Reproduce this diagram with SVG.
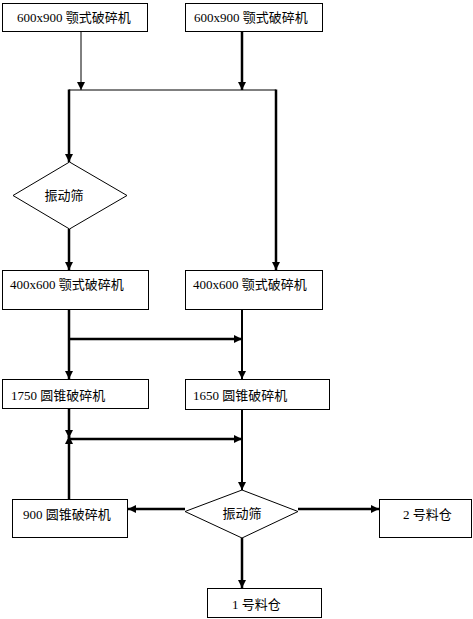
<svg xmlns="http://www.w3.org/2000/svg" width="473" height="619" viewBox="0 0 473 619">
<style>
.box{fill:#fff;stroke:#000;stroke-width:1}
.t{font-family:"Liberation Serif","Noto Sans CJK SC",serif;font-size:13px;fill:#000}
.thin{stroke:#000;stroke-width:1;fill:none}
.thick{stroke:#000;stroke-width:2.5;fill:none}
.mid{stroke:#000;stroke-width:2;fill:none}
</style>
<defs>
<marker id="ah" markerUnits="userSpaceOnUse" markerWidth="8" markerHeight="8" viewBox="0 0 8 8" refX="8" refY="4" orient="auto">
<path d="M0,0 L8,4 L0,8 z" fill="#000"/>
</marker>
</defs>
<rect width="473" height="619" fill="#fff"/>
<g id="connectors">
<line class="thin" x1="81" y1="31" x2="81" y2="90" marker-end="url(#ah)"/>
<line class="thick" x1="242" y1="31" x2="242" y2="90" marker-end="url(#ah)"/>
<line class="thin" x1="69" y1="90" x2="276" y2="90"/>
<line class="thick" x1="69" y1="89.5" x2="69" y2="162" marker-end="url(#ah)"/>
<line class="thick" x1="276" y1="89.5" x2="276" y2="270" marker-end="url(#ah)"/>
<line class="thick" x1="69" y1="229" x2="69" y2="270" marker-end="url(#ah)"/>
<line class="thick" x1="69" y1="310" x2="69" y2="379" marker-end="url(#ah)"/>
<line class="thick" x1="69" y1="339" x2="242" y2="339" marker-end="url(#ah)"/>
<line class="mid" x1="242" y1="310" x2="242" y2="379" marker-end="url(#ah)"/>
<line class="thick" x1="69" y1="409" x2="69" y2="438" marker-end="url(#ah)"/>
<line class="thick" x1="69" y1="499" x2="69" y2="436" marker-end="url(#ah)"/>
<line class="thick" x1="69" y1="439" x2="242" y2="439" marker-end="url(#ah)"/>
<line class="mid" x1="242" y1="410" x2="242" y2="490" marker-end="url(#ah)"/>
<line class="thick" x1="185" y1="509" x2="128" y2="509" marker-end="url(#ah)"/>
<line class="thick" x1="298" y1="509" x2="379" y2="509" marker-end="url(#ah)"/>
<line class="thick" x1="242" y1="538" x2="242" y2="588" marker-end="url(#ah)"/>
</g>
<g id="jaw1"><rect class="box" x="2.5" y="3.5" width="145" height="28"/><text class="t" x="17" y="22">600x900 颚式破碎机</text></g>
<g id="jaw2"><rect class="box" x="185.5" y="3.5" width="137" height="28"/><text class="t" x="194" y="22">600x900 颚式破碎机</text></g>
<g id="screen1"><polygon class="box" points="69.5,162 127,195.5 69.5,229 13,195.5"/><text class="t" x="64" y="200" text-anchor="middle">振动筛</text></g>
<g id="jaw3"><rect class="box" x="2.5" y="270.5" width="146" height="39"/><text class="t" x="10" y="289">400x600 颚式破碎机</text></g>
<g id="jaw4"><rect class="box" x="185.5" y="270.5" width="137" height="39"/><text class="t" x="193" y="289">400x600 颚式破碎机</text></g>
<g id="cone1750"><rect class="box" x="2.5" y="379.5" width="146" height="29"/><text class="t" x="11" y="400">1750 圆锥破碎机</text></g>
<g id="cone1650"><rect class="box" x="185.5" y="379.5" width="144" height="30"/><text class="t" x="193" y="400">1650 圆锥破碎机</text></g>
<g id="screen2"><polygon class="box" points="242,490 298,511.5 242,538 185,511.5"/><text class="t" x="242" y="518" text-anchor="middle">振动筛</text></g>
<g id="cone900"><rect class="box" x="12.5" y="499.5" width="115" height="38"/><text class="t" x="23" y="519">900 圆锥破碎机</text></g>
<g id="bin2"><rect class="box" x="379.5" y="499.5" width="92" height="38"/><text class="t" x="403" y="519">2 号料仓</text></g>
<g id="bin1"><rect class="box" x="207.5" y="588.5" width="114" height="29"/><text class="t" x="232" y="609">1 号料仓</text></g>
</svg>
